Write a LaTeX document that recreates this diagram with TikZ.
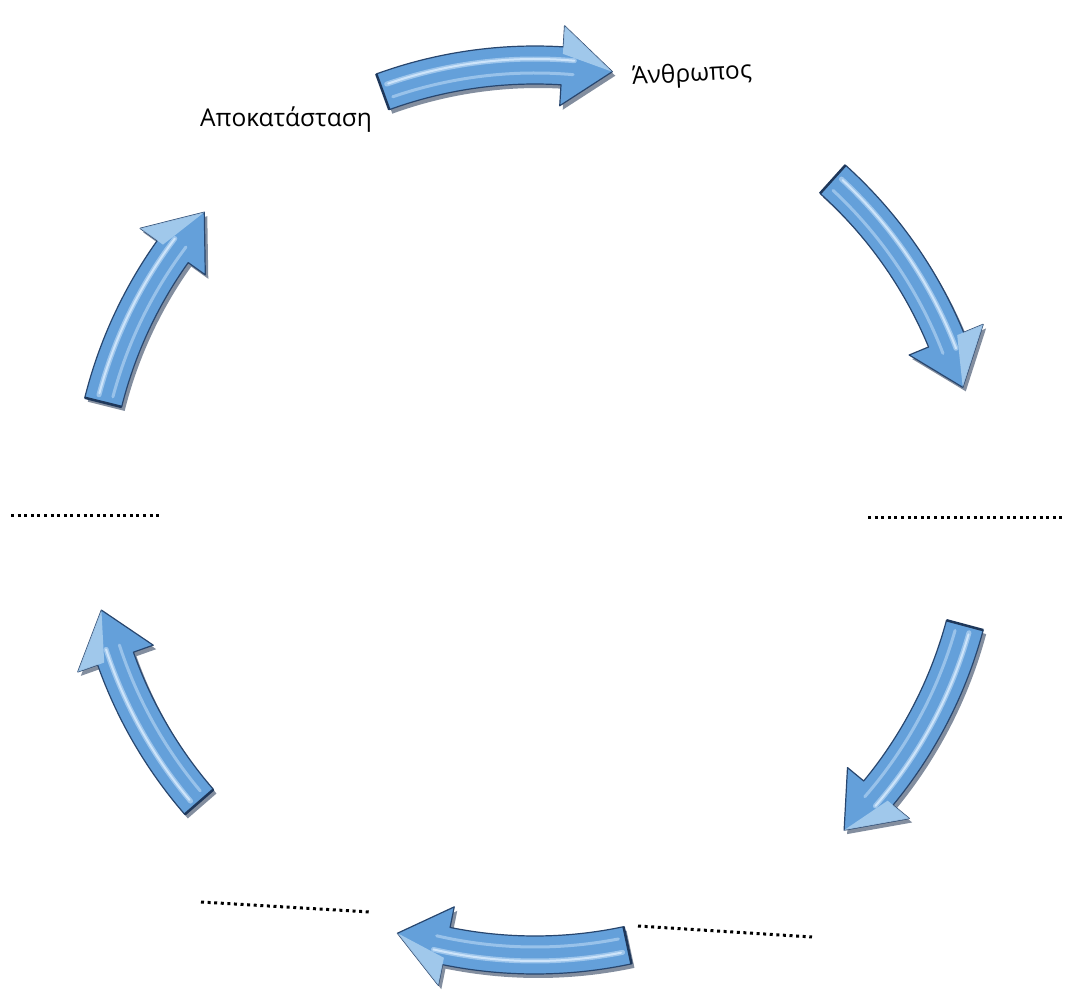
\documentclass[tikz,border=0pt]{standalone}
\usepackage{fontspec}
\setmainfont{Open Sans}
\definecolor{abody}{RGB}{100,160,218}
\definecolor{aedge}{RGB}{40,70,110}
\definecolor{ashadow}{RGB}{30,50,80}
\definecolor{aglow}{RGB}{205,228,250}
\definecolor{aend}{RGB}{30,55,90}
\definecolor{ahead}{RGB}{175,210,240}
\begin{document}
\begin{tikzpicture}[x=1pt,y=1pt,
  arrowbody/.style={fill=abody,draw=aedge,line width=1.2pt,line join=round},
  arrowshadow/.style={fill=ashadow,opacity=0.55},
  glow/.style={draw=aglow,line cap=round},
  dotline/.style={draw=black,line width=3pt,dash pattern=on 3pt off 3.6pt},
  lbl/.style={font=\fontsize{24.5}{28}\selectfont,inner sep=0pt}]
\useasboundingbox (0,0) rectangle (1067,993);
\newcommand\Rc{445}
\newcommand\cyclearrow[2]{%
  \pgfmathsetmacro\ah{#2+6.5}%
  \pgfmathsetmacro\am{#2+5}%
  \pgfmathsetmacro\Ro{\Rc+19}%
  \pgfmathsetmacro\Ri{\Rc-19}%
  \pgfmathsetmacro\Rho{\Rc+40}%
  \pgfmathsetmacro\Rhi{\Rc-40}%
  \fill[arrowshadow,shift={(3,-4)}] (#1:\Ro) arc[start angle=#1,end angle=\ah,radius=\Ro] -- (\ah:\Rho) -- (#2:\Rc) -- (\ah:\Rhi) -- (\ah:\Ri) arc[start angle=\ah,end angle=#1,radius=\Ri] -- cycle;
  \path[arrowbody] (#1:\Ro) arc[start angle=#1,end angle=\ah,radius=\Ro] -- (\ah:\Rho) -- (#2:\Rc) -- (\ah:\Rhi) -- (\ah:\Ri) arc[start angle=\ah,end angle=#1,radius=\Ri] -- cycle;
  \draw[glow,line width=5pt,opacity=0.55] (#1-0.8:\Rc+6) arc[start angle=#1-0.8,end angle=\am,radius=\Rc+6];
  \draw[glow,line width=2pt] (#1-1:\Rc+6) arc[start angle=#1-1,end angle=\am,radius=\Rc+6];
  \draw[glow,line width=3pt,opacity=0.5] (#1-1:\Rc-8) arc[start angle=#1-1,end angle=\am,radius=\Rc-8];
  \draw[aend,line width=2.5pt] (#1:\Ro) -- (#1:\Ri);
  \fill[ahead,opacity=0.8] (\ah:\Rho) -- (#2:\Rc) -- (\ah:\Rc+12) -- cycle;
}
\begin{scope}[shift={(535,483)}]
  \cyclearrow{110}{80}
  \cyclearrow{48}{16}
  \cyclearrow{-15}{-46}
  \cyclearrow{-78}{-108}
  \cyclearrow{-139}{-167}
  \cyclearrow{166}{138}
\end{scope}
\node[lbl] (apok) at (286,873) {Αποκατάσταση};
\node[lbl,rotate=3] (anth) at (692,918) {Άνθρωπος};
\coordinate (l1) at (11,477); \coordinate (l2) at (162,477);
\coordinate (r1) at (868,475); \coordinate (r2) at (1062,475);
\coordinate (bl1) at (201,91); \coordinate (bl2) at (370,81);
\coordinate (br1) at (638,67); \coordinate (br2) at (812,56);
\draw[dotline] (l1) -- (l2);
\draw[dotline] (r1) -- (r2);
\draw[dotline] (bl1) -- (bl2);
\draw[dotline] (br1) -- (br2);
\end{tikzpicture}
\end{document}
